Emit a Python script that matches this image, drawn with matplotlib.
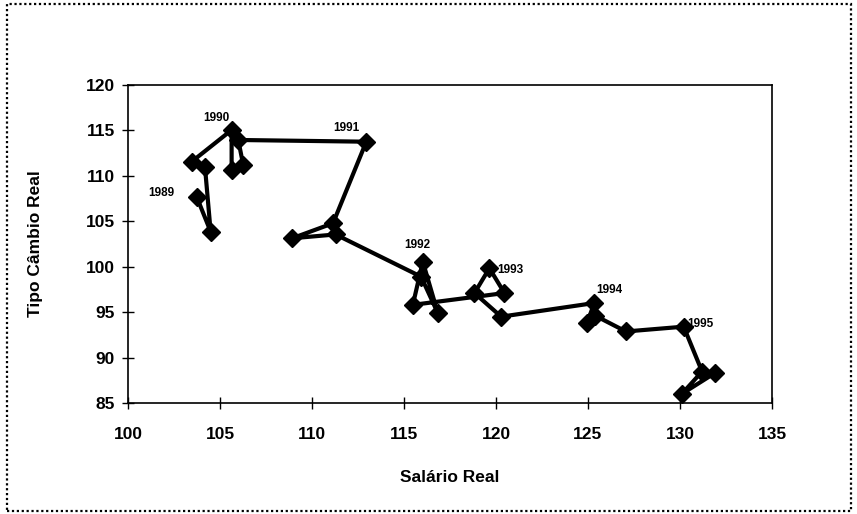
import matplotlib
matplotlib.use("Agg")
import matplotlib.pyplot as plt
from matplotlib.patches import Rectangle

plt.rcParams['font.family'] = ['Liberation Sans', 'DejaVu Sans']

# Real wage (x) and real exchange rate (y), in path order
salario = [103.73, 104.49, 104.18, 103.46,
           105.63, 105.63, 106.26, 105.99,
           112.95, 111.14, 108.92, 111.28,
           115.93, 116.84, 116.02, 115.48,
           120.46, 119.64, 118.83, 120.28,
           125.34, 124.95, 125.40, 127.06,
           130.20, 131.20, 130.10, 131.90]
cambio = [107.70, 103.86, 111.00, 111.56,
          115.05, 110.65, 111.20, 113.95,
          113.76, 104.78, 103.13, 103.55,
          98.90, 94.88, 100.56, 95.80,
          97.10, 99.83, 97.10, 94.50,
          96.00, 93.80, 94.60, 92.87,
          93.40, 88.46, 86.00, 88.30]

year_labels = ["1989", "1990", "1991", "1992", "1993", "1994", "1995"]
label_x = [101.80, 104.81, 111.87, 115.71, 120.80, 126.15, 131.10]
label_y = [108.10, 116.37, 115.27, 102.43, 99.65, 97.45, 93.70]

x_ticks = [100, 105, 110, 115, 120, 125, 130, 135]
y_ticks = [85, 90, 95, 100, 105, 110, 115, 120]

fig = plt.figure(figsize=(8.57, 5.14), dpi=100)
ax = fig.add_axes([0.1494, 0.2160, 0.7514, 0.6186])

ax.plot(salario, cambio, color='black', lw=3.0, marker='D', markersize=9.5,
        markerfacecolor='black', markeredgecolor='black', zorder=3,
        clip_on=False)

for t, lx, ly in zip(year_labels, label_x, label_y):
    ax.text(lx, ly, t, fontsize=8.5, fontweight='bold', ha='center',
            va='center', zorder=1)

ax.set_xlim(100, 135)
ax.set_ylim(85, 120)
ax.set_xticks(x_ticks)
ax.set_yticks(y_ticks)
ax.tick_params(direction='inout', length=9, width=1.0, labelsize=12.5)
for lab in ax.get_xticklabels() + ax.get_yticklabels():
    lab.set_fontweight('bold')
ax.tick_params(axis='x', pad=13)
ax.tick_params(axis='y', pad=5)
for s in ax.spines.values():
    s.set_linewidth(1.2)
    s.set_color('black')

ax.set_xlabel("Salário Real", fontsize=12.5, fontweight='bold', va='center')
ax.set_ylabel("Tipo Câmbio Real", fontsize=12.5, fontweight='bold', va='center')
ax.xaxis.set_label_coords(0.5, -0.233)
ax.yaxis.set_label_coords(-0.1444, 0.5)

# dotted outer frame
fig.patches.append(Rectangle((7 / 857, 3 / 514), 844 / 857, 507 / 514,
                             transform=fig.transFigure, fill=False,
                             linestyle=(0, (1, 1.2)), linewidth=1.6,
                             edgecolor='black'))

fig.savefig("out.png", dpi=100)
